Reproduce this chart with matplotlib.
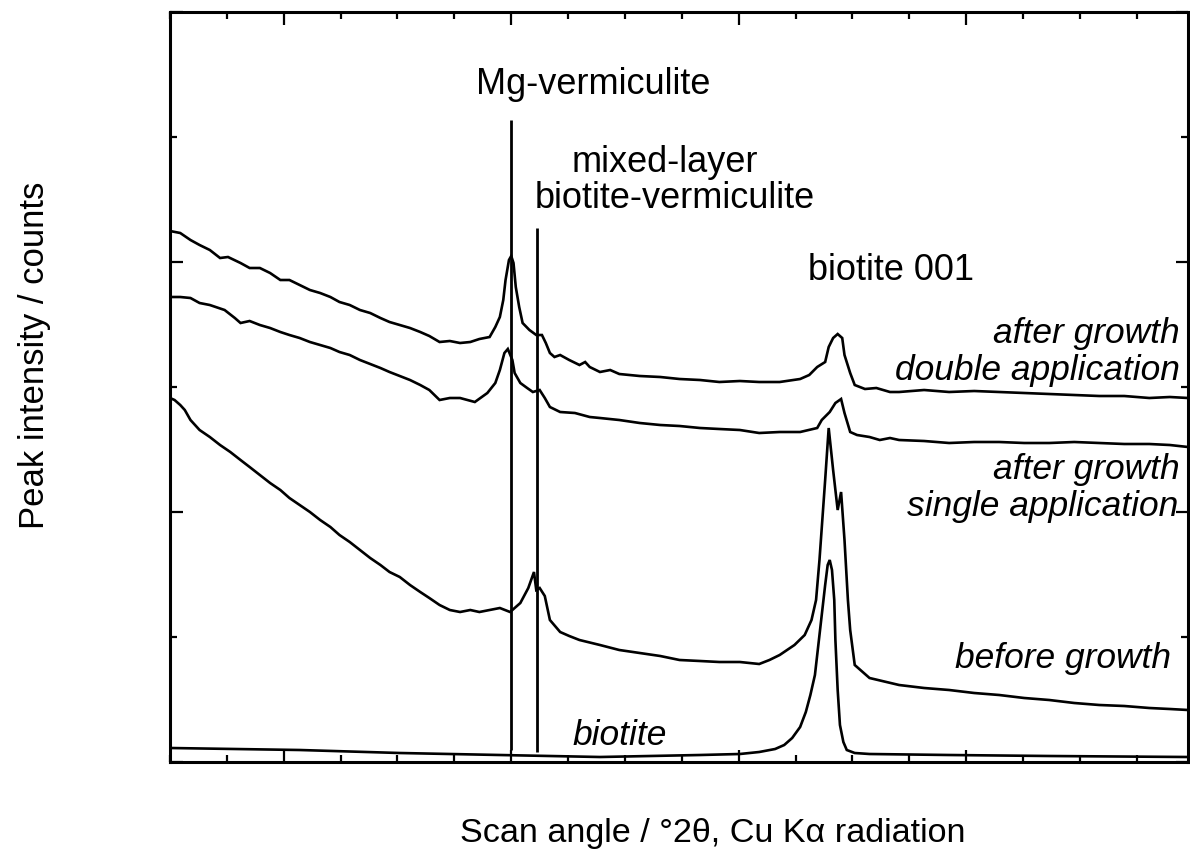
import matplotlib
matplotlib.use('Agg')
import matplotlib.pyplot as plt
from matplotlib.ticker import MultipleLocator

plt.rcParams['font.family'] = ['Liberation Sans', 'DejaVu Sans']

# ---- data: scan angle (deg 2theta) and intensity (counts, arbitrary) ----
double_x = [3.00, 3.09, 3.18, 3.26, 3.35, 3.44, 3.51, 3.62, 3.70, 3.79, 3.88, 3.97, 4.05, 4.14,
            4.23, 4.32, 4.41, 4.49, 4.58, 4.67, 4.76, 4.85, 4.93, 5.02, 5.11, 5.20, 5.28, 5.37,
            5.46, 5.55, 5.64, 5.72, 5.81, 5.86, 5.90, 5.93, 5.95, 5.98, 6.00, 6.02, 6.04, 6.07,
            6.10, 6.16, 6.22, 6.27, 6.304, 6.34, 6.38, 6.43, 6.51, 6.60, 6.65, 6.69, 6.78, 6.87,
            6.95, 7.13, 7.31, 7.48, 7.66, 7.83, 8.01, 8.18, 8.36, 8.54, 8.62, 8.69, 8.76, 8.791,
            8.83, 8.87, 8.91, 8.93, 8.98, 9.02, 9.11, 9.21, 9.33, 9.41, 9.63, 9.85, 10.07, 10.29,
            10.51, 10.73, 10.95, 11.17, 11.39, 11.61, 11.79, 11.95]
double_y = [531, 529, 522, 517, 512, 504, 505, 499, 494, 494, 489, 482, 482, 477,
            472, 469, 465, 460, 457, 452, 449, 444, 440, 437, 434, 430, 426, 420,
            421, 419, 420, 423, 425, 435, 445, 462, 482, 502, 506, 499, 475, 455,
            439, 432, 427, 427, 419, 409, 405, 407, 402, 397, 400, 395, 390, 392,
            388, 386, 385, 383, 382, 380, 381, 380, 380, 383, 387, 395, 400, 415,
            424, 428, 424, 407, 389, 377, 373, 374, 370, 370, 372, 370, 371, 370,
            369, 368, 367, 366, 366, 364, 365, 364]

single_x = [3.00, 3.09, 3.18, 3.26, 3.35, 3.48, 3.57, 3.62, 3.70, 3.79, 3.88, 3.97, 4.05, 4.14,
            4.23, 4.32, 4.41, 4.49, 4.58, 4.67, 4.76, 4.85, 4.93, 5.02, 5.11, 5.20, 5.28, 5.37,
            5.46, 5.55, 5.68, 5.79, 5.86, 5.90, 5.94, 5.97, 6.01, 6.03, 6.08, 6.14, 6.19, 6.25,
            6.295, 6.34, 6.43, 6.56, 6.69, 6.78, 6.95, 7.13, 7.31, 7.48, 7.66, 7.83, 8.01, 8.18,
            8.36, 8.54, 8.69, 8.73, 8.80, 8.85, 8.90, 8.93, 8.98, 9.04, 9.15, 9.24, 9.33, 9.41,
            9.63, 9.85, 10.07, 10.29, 10.51, 10.73, 10.95, 11.17, 11.39, 11.61, 11.79, 11.95]
single_y = [465, 465, 464, 459, 457, 452, 444, 439, 441, 437, 434, 430, 427, 424,
            420, 417, 414, 410, 407, 402, 398, 394, 390, 386, 382, 377, 372, 362,
            364, 364, 360, 369, 379, 392, 409, 413, 402, 389, 379, 374, 370, 372,
            364, 355, 350, 349, 345, 344, 342, 339, 337, 336, 334, 333, 332, 329,
            330, 330, 334, 342, 350, 359, 363, 349, 330, 327, 325, 322, 324, 322,
            321, 319, 320, 320, 319, 319, 320, 319, 318, 318, 317, 315]

before_x = [3.00, 3.04, 3.09, 3.13, 3.18, 3.26, 3.35, 3.44, 3.53, 3.62, 3.70, 3.79, 3.88, 3.97,
            4.05, 4.14, 4.23, 4.32, 4.41, 4.49, 4.58, 4.67, 4.76, 4.85, 4.93, 5.02, 5.11, 5.20,
            5.28, 5.37, 5.46, 5.55, 5.64, 5.72, 5.81, 5.90, 5.99, 6.08, 6.15, 6.20, 6.22, 6.25,
            6.295, 6.34, 6.43, 6.51, 6.60, 6.78, 6.95, 7.13, 7.31, 7.48, 7.66, 7.83, 8.01, 8.18,
            8.27, 8.36, 8.49, 8.58, 8.64, 8.68, 8.71, 8.76, 8.791, 8.83, 8.87, 8.90, 8.93, 8.96,
            8.98, 9.02, 9.15, 9.41, 9.63, 9.85, 10.07, 10.29, 10.51, 10.73, 10.95, 11.17, 11.39,
            11.61, 11.79, 11.95]
before_y = [364, 362, 357, 352, 342, 332, 325, 317, 310, 302, 295, 287, 279, 272,
            264, 257, 250, 242, 235, 227, 220, 212, 204, 197, 190, 185, 177, 170,
            164, 157, 152, 150, 152, 150, 152, 154, 150, 159, 174, 190, 172, 174,
            166, 142, 130, 126, 122, 117, 112, 109, 106, 102, 101, 100, 100, 98,
            102, 107, 117, 127, 142, 162, 202, 282, 334, 292, 252, 270, 222, 162,
            132, 97, 84, 77, 74, 72, 69, 67, 64, 62, 59, 57, 56,
            54, 53, 52]

biotite_x = [3.00, 4.14, 5.02, 5.90, 6.78, 7.66, 8.01, 8.18, 8.32, 8.40, 8.47, 8.54, 8.59, 8.63,
             8.67, 8.70, 8.73, 8.76, 8.782, 8.80, 8.82, 8.84, 8.85, 8.87, 8.89, 8.92, 8.95, 9.02,
             9.15, 9.85, 10.73, 11.95]
biotite_y = [14, 12, 9, 7, 5, 7, 8, 10, 13, 17, 24, 35, 50, 67,
             87, 117, 147, 177, 197, 202, 192, 162, 122, 72, 37, 20, 12, 9,
             8, 7, 6, 5]

# reflection marker lines: position (deg), bottom and top (counts)
marker_pos = [6.00, 6.23]
marker_bottom = [12, 10]
marker_top = [642, 534]

fig = plt.figure(figsize=(11.9, 8.55), dpi=100)
ax = fig.add_axes([0.14286, 0.10877, 0.85546, 0.87719])

lw = 1.9
for xs, ys in [(double_x, double_y), (single_x, single_y), (before_x, before_y), (biotite_x, biotite_y)]:
    ax.plot(xs, ys, color='black', lw=lw, solid_joinstyle='miter')
ax.vlines(marker_pos, marker_bottom, marker_top, color='black', lw=2.0)

ax.set_xlim(3.0, 11.95)
ax.set_ylim(0, 750)
ax.xaxis.set_major_locator(MultipleLocator(2))
ax.xaxis.set_minor_locator(MultipleLocator(0.5))
ax.yaxis.set_major_locator(MultipleLocator(250))
ax.yaxis.set_minor_locator(MultipleLocator(125))
ax.tick_params(which='both', direction='in', top=True, right=True,
               labelbottom=False, labelleft=False, width=1.6, color='black')
ax.tick_params(which='major', length=9)
ax.tick_params(which='minor', length=5)
for s in ax.spines.values():
    s.set_linewidth(2.2)

fs = 26
fsi = 25.5
ax.text(6.72, 678, 'Mg-vermiculite', fontsize=fs, ha='center', va='center')
ax.text(7.35, 600, 'mixed-layer', fontsize=fs, ha='center', va='center')
ax.text(7.44, 564, 'biotite-vermiculite', fontsize=fs, ha='center', va='center')
ax.text(9.34, 492, 'biotite 001', fontsize=fs, ha='center', va='center')
ax.text(11.88, 429, 'after growth', fontsize=fsi, ha='right', va='center', style='italic')
ax.text(11.88, 392, 'double application', fontsize=fsi, ha='right', va='center', style='italic')
ax.text(11.88, 293, 'after growth', fontsize=fsi, ha='right', va='center', style='italic')
ax.text(11.86, 256, 'single application', fontsize=fsi, ha='right', va='center', style='italic')
ax.text(11.80, 104, 'before growth', fontsize=fsi, ha='right', va='center', style='italic')
ax.text(6.95, 27, 'biotite', fontsize=fsi, ha='center', va='center', style='italic')

fig.text(713/1190, 1-833/855, 'Scan angle / °2θ, Cu Kα radiation', fontsize=24.6,
         ha='center', va='center')
fig.text(35/1190, 1-355/855, 'Peak intensity / counts', fontsize=25, rotation=90,
         ha='center', va='center')

fig.savefig('out.png', dpi=100)
